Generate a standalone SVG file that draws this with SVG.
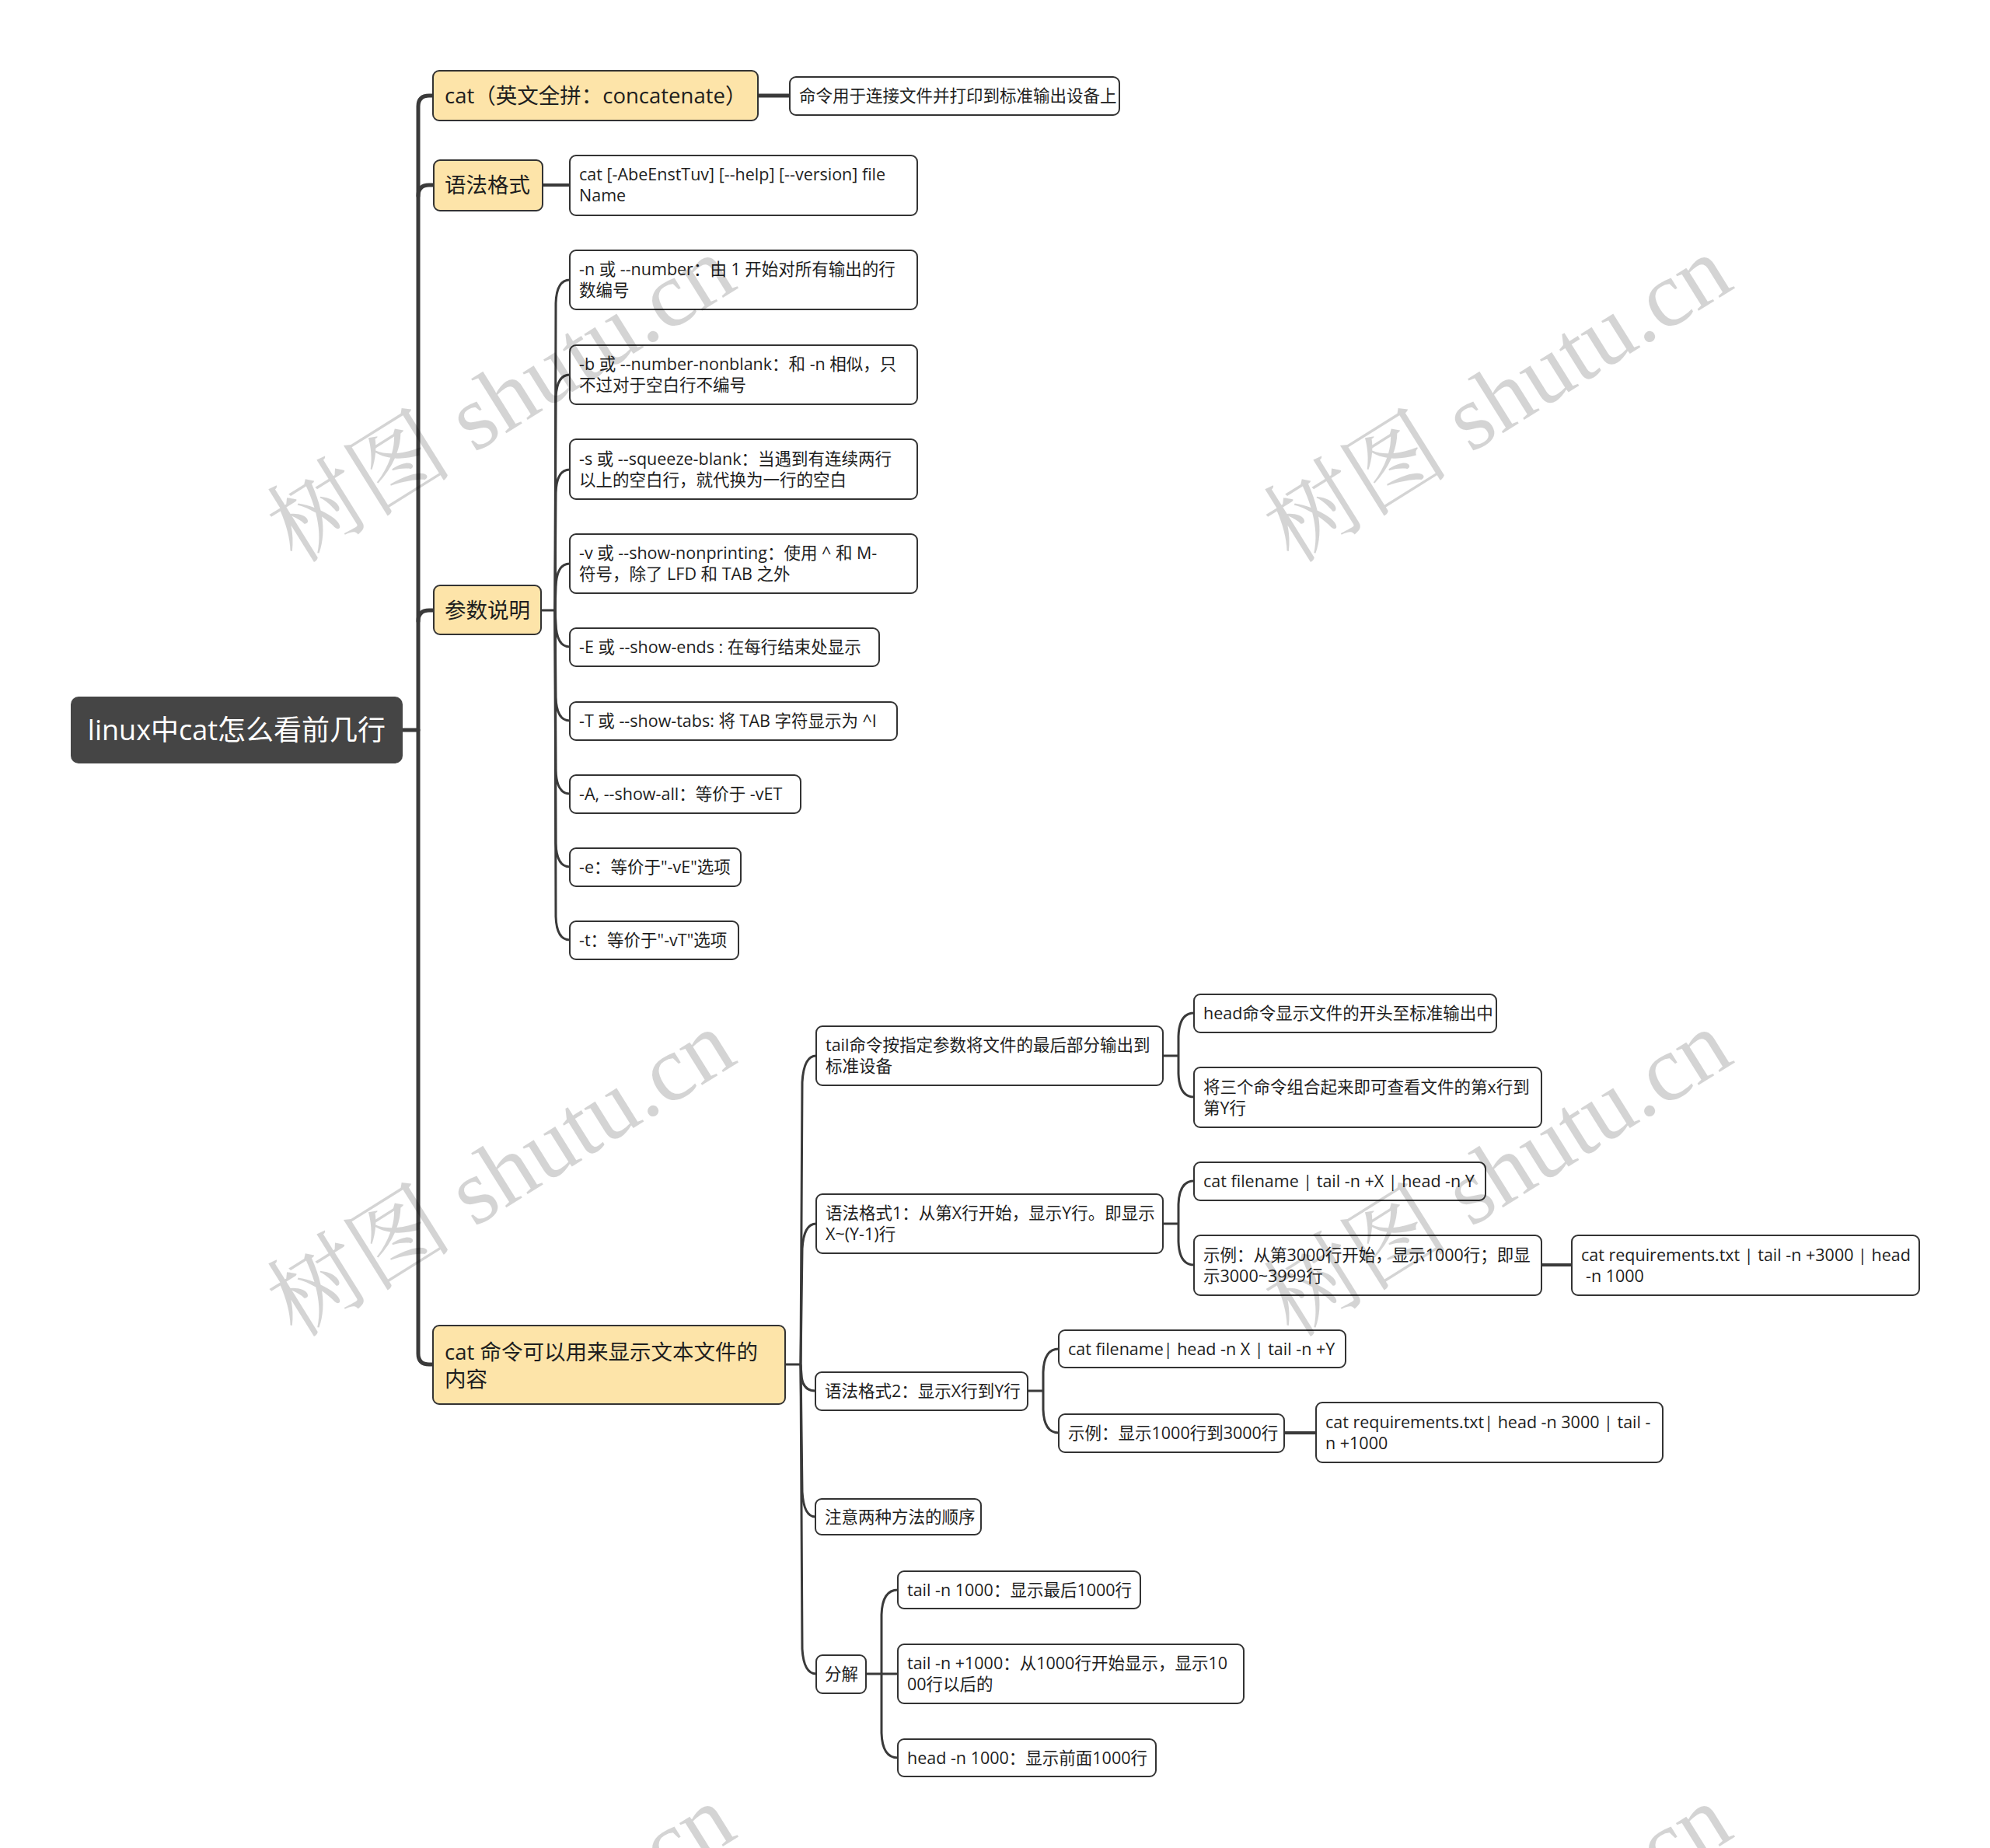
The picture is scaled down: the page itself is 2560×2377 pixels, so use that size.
<svg xmlns="http://www.w3.org/2000/svg" width="2560" height="2377" viewBox="0 0 2560 2377">
<style>
.bg{fill:#ffffff}
.root{fill:#454545}
.n1{fill:#fde4a9;stroke:#333333;stroke-width:2}
.n2{fill:#ffffff;stroke:#333333;stroke-width:2}
.t{font-family:"Open Sans","Noto Sans CJK SC",sans-serif;fill:#1e1e1e}
.tr{font-size:36px;fill:#ffffff}
.t1{font-size:27.5px}
.t2{font-size:21.5px}
.c1{fill:none;stroke:#3a3a3a;stroke-width:5;stroke-linecap:round;stroke-linejoin:round}
.c3{fill:none;stroke:#3a3a3a;stroke-width:4}
.c2{fill:none;stroke:#3a3a3a;stroke-width:3}
.wm{font-family:"Liberation Serif","Noto Serif CJK SC","Noto Sans CJK SC",serif;font-size:120px;fill:#000000;fill-opacity:0.17}
</style>
<rect class="bg" x="0" y="0" width="2560" height="2377"/>

<g id="connectors">
  <path class="c1" d="M518,939 H538"/>
  <path class="c1" d="M557,123 H552 Q538,123 538,137 V1741 Q538,1755 552,1755 H557"/>
  <path class="c1" d="M558,238 H552 Q538,238 538,252"/>
  <path class="c1" d="M558,785 H552 Q538,785 538,799"/>
  <path class="c1" d="M975,123 H1016"/>
  <path class="c3" d="M698,238 H733"/>
  <path class="c3" d="M1983,1627 H2022"/>
  <path class="c3" d="M1652,1843 H1693"/>
  <!-- 参数说明 -->
  <path class="c2" d="M696,785 H714"/>
  <path class="c2" d="M714,785 L715,390 Q716,360 733,360"/>
  <path class="c2" d="M714,785 L715,512 Q716,482 733,482"/>
  <path class="c2" d="M714,785 L715,634 Q716,604 733,604"/>
  <path class="c2" d="M714,785 L715,755 Q716,725 733,725"/>
  <path class="c2" d="M714,785 L715,802 Q716,832 733,832"/>
  <path class="c2" d="M714,785 L715,897 Q716,927 733,927"/>
  <path class="c2" d="M714,785 L715,991 Q716,1021 733,1021"/>
  <path class="c2" d="M714,785 L715,1085 Q716,1115 733,1115"/>
  <path class="c2" d="M714,785 L715,1179 Q716,1209 733,1209"/>
  <!-- cat 命令 -->
  <path class="c2" d="M1010,1755 H1030"/>
  <path class="c2" d="M1030,1755 L1032,1392 Q1034,1358 1050,1358"/>
  <path class="c2" d="M1030,1755 L1032,1606 Q1034,1574 1050,1574"/>
  <path class="c2" d="M1030,1755 L1031,1768 Q1032,1789 1049,1789"/>
  <path class="c2" d="M1030,1755 L1032,1919 Q1034,1951 1049,1951"/>
  <path class="c2" d="M1030,1755 L1032,2121 Q1034,2153 1050,2153"/>
  <!-- tail命令 -->
  <path class="c2" d="M1496,1358 H1516"/>
  <path class="c2" d="M1516,1358 L1516,1333 Q1517,1303 1536,1303"/>
  <path class="c2" d="M1516,1358 L1516,1381 Q1517,1411 1536,1411"/>
  <!-- 语法格式1 -->
  <path class="c2" d="M1496,1574 H1516"/>
  <path class="c2" d="M1516,1574 L1516,1549 Q1517,1519 1536,1519"/>
  <path class="c2" d="M1516,1574 L1516,1597 Q1517,1627 1536,1627"/>
  <!-- 语法格式2 -->
  <path class="c2" d="M1322,1789 H1342"/>
  <path class="c2" d="M1342,1789 L1342,1765 Q1343,1735 1362,1735"/>
  <path class="c2" d="M1342,1789 L1342,1813 Q1343,1843 1362,1843"/>
  <!-- 分解 -->
  <path class="c2" d="M1114,2153 H1155"/>
  <path class="c2" d="M1134,2153 L1134,2077 Q1135,2045 1155,2045"/>
  <path class="c2" d="M1134,2153 L1134,2229 Q1135,2261 1155,2261"/>
</g>

<g id="root">
  <rect class="root" x="91" y="896" width="427" height="86" rx="10"/>
  <text class="t tr" x="304.5" y="952" text-anchor="middle">linux中cat怎么看前几行</text>
</g>

<g id="n-cat">
  <rect class="n1" x="557" y="91" width="418" height="64" rx="8"/>
  <text class="t t1" x="572" y="133">cat（英文全拼：concatenate）</text>
</g>
<g id="n-cat-desc">
  <rect class="n2" x="1016" y="99" width="424" height="49" rx="8"/>
  <text class="t t2" x="1028" y="131">命令用于连接文件并打印到标准输出设备上</text>
</g>

<g id="n-syntax">
  <rect class="n1" x="558" y="206" width="140" height="65" rx="8"/>
  <text class="t t1" x="572" y="248">语法格式</text>
</g>
<g id="n-syntax-desc">
  <rect class="n2" x="733" y="200" width="447" height="77" rx="8"/>
  <text class="t t2" x="745" y="232">cat [-AbeEnstTuv] [--help] [--version] file</text>
  <text class="t t2" x="745" y="259">Name</text>
</g>

<g id="n-params">
  <rect class="n1" x="558" y="753" width="138" height="63" rx="8"/>
  <text class="t t1" x="572" y="795">参数说明</text>
</g>
<g id="p-n">
  <rect class="n2" x="733" y="322" width="447" height="76" rx="8"/>
  <text class="t t2" x="745" y="354">-n 或 --number：由 1 开始对所有输出的行</text>
  <text class="t t2" x="745" y="381">数编号</text>
</g>
<g id="p-b">
  <rect class="n2" x="733" y="444" width="447" height="76" rx="8"/>
  <text class="t t2" x="745" y="476">-b 或 --number-nonblank：和 -n 相似，只</text>
  <text class="t t2" x="745" y="503">不过对于空白行不编号</text>
</g>
<g id="p-s">
  <rect class="n2" x="733" y="565" width="447" height="77" rx="8"/>
  <text class="t t2" x="745" y="598">-s 或 --squeeze-blank：当遇到有连续两行</text>
  <text class="t t2" x="745" y="625">以上的空白行，就代换为一行的空白</text>
</g>
<g id="p-v">
  <rect class="n2" x="733" y="687" width="447" height="76" rx="8"/>
  <text class="t t2" x="745" y="719">-v 或 --show-nonprinting：使用 ^ 和 M-</text>
  <text class="t t2" x="745" y="746">符号，除了 LFD 和 TAB 之外</text>
</g>
<g id="p-E">
  <rect class="n2" x="733" y="808" width="398" height="49" rx="8"/>
  <text class="t t2" x="745" y="840">-E 或 --show-ends : 在每行结束处显示</text>
</g>
<g id="p-T">
  <rect class="n2" x="733" y="903" width="421" height="49" rx="8"/>
  <text class="t t2" x="745" y="935">-T 或 --show-tabs: 将 TAB 字符显示为 ^I</text>
</g>
<g id="p-A">
  <rect class="n2" x="733" y="997" width="297" height="49" rx="8"/>
  <text class="t t2" x="745" y="1029">-A, --show-all：等价于 -vET</text>
</g>
<g id="p-e">
  <rect class="n2" x="733" y="1091" width="220" height="49" rx="8"/>
  <text class="t t2" x="745" y="1123">-e：等价于"-vE"选项</text>
</g>
<g id="p-t">
  <rect class="n2" x="733" y="1185" width="217" height="49" rx="8"/>
  <text class="t t2" x="745" y="1217">-t：等价于"-vT"选项</text>
</g>

<g id="n-catcmd">
  <rect class="n1" x="557" y="1705" width="453" height="101" rx="8"/>
  <text class="t t1" x="572" y="1749">cat 命令可以用来显示文本文件的</text>
  <text class="t t1" x="572" y="1784">内容</text>
</g>
<g id="c-tail">
  <rect class="n2" x="1050" y="1320" width="446" height="76" rx="8"/>
  <text class="t t2" x="1062" y="1352">tail命令按指定参数将文件的最后部分输出到</text>
  <text class="t t2" x="1062" y="1379">标准设备</text>
</g>
<g id="c-head">
  <rect class="n2" x="1536" y="1279" width="389" height="49" rx="8"/>
  <text class="t t2" x="1548" y="1311">head命令显示文件的开头至标准输出中</text>
</g>
<g id="c-combine">
  <rect class="n2" x="1536" y="1373" width="447" height="77" rx="8"/>
  <text class="t t2" x="1548" y="1406">将三个命令组合起来即可查看文件的第x行到</text>
  <text class="t t2" x="1548" y="1433">第Y行</text>
</g>
<g id="c-syn1">
  <rect class="n2" x="1050" y="1536" width="446" height="76" rx="8"/>
  <text class="t t2" x="1062" y="1568">语法格式1：从第X行开始，显示Y行。即显示</text>
  <text class="t t2" x="1062" y="1595">X~(Y-1)行</text>
</g>
<g id="c-syn1-a">
  <rect class="n2" x="1536" y="1495" width="375" height="49" rx="8"/>
  <text class="t t2" x="1548" y="1527">cat filename | tail -n +X | head -n Y</text>
</g>
<g id="c-syn1-b">
  <rect class="n2" x="1536" y="1589" width="447" height="77" rx="8"/>
  <text class="t t2" x="1548" y="1622">示例：从第3000行开始，显示1000行；即显</text>
  <text class="t t2" x="1548" y="1649">示3000~3999行</text>
</g>
<g id="c-syn1-c">
  <rect class="n2" x="2022" y="1589" width="447" height="77" rx="8"/>
  <text class="t t2" x="2034" y="1622">cat requirements.txt | tail -n +3000 | head</text>
  <text class="t t2" x="2040" y="1649">-n 1000</text>
</g>
<g id="c-syn2">
  <rect class="n2" x="1049" y="1765" width="273" height="49" rx="8"/>
  <text class="t t2" x="1061" y="1797">语法格式2：显示X行到Y行</text>
</g>
<g id="c-syn2-a">
  <rect class="n2" x="1362" y="1711" width="369" height="48" rx="8"/>
  <text class="t t2" x="1374" y="1743">cat filename| head -n X | tail -n +Y</text>
</g>
<g id="c-syn2-b">
  <rect class="n2" x="1362" y="1819" width="290" height="49" rx="8"/>
  <text class="t t2" x="1374" y="1851">示例：显示1000行到3000行</text>
</g>
<g id="c-syn2-c">
  <rect class="n2" x="1693" y="1804" width="446" height="77" rx="8"/>
  <text class="t t2" x="1705" y="1837">cat requirements.txt| head -n 3000 | tail -</text>
  <text class="t t2" x="1705" y="1864">n +1000</text>
</g>
<g id="c-note">
  <rect class="n2" x="1049" y="1928" width="213" height="46" rx="8"/>
  <text class="t t2" x="1061" y="1959">注意两种方法的顺序</text>
</g>
<g id="c-split">
  <rect class="n2" x="1050" y="2129" width="64" height="49" rx="8"/>
  <text class="t t2" x="1061" y="2161">分解</text>
</g>
<g id="s-tail">
  <rect class="n2" x="1155" y="2021" width="312" height="48" rx="8"/>
  <text class="t t2" x="1167" y="2053">tail -n 1000：显示最后1000行</text>
</g>
<g id="s-tailplus">
  <rect class="n2" x="1155" y="2115" width="445" height="76" rx="8"/>
  <text class="t t2" x="1167" y="2147">tail -n +1000：从1000行开始显示，显示10</text>
  <text class="t t2" x="1167" y="2174">00行以后的</text>
</g>
<g id="s-head">
  <rect class="n2" x="1155" y="2237" width="332" height="48" rx="8"/>
  <text class="t t2" x="1167" y="2269">head -n 1000：显示前面1000行</text>
</g>

<g id="watermarks">
  <text class="wm" text-anchor="middle" transform="translate(645,514) rotate(-32)" x="0" y="40">树图 shutu.cn</text>
  <text class="wm" text-anchor="middle" transform="translate(1927,514) rotate(-32)" x="0" y="40">树图 shutu.cn</text>
  <text class="wm" text-anchor="middle" transform="translate(645,1510) rotate(-32)" x="0" y="40">树图 shutu.cn</text>
  <text class="wm" text-anchor="middle" transform="translate(1927,1510) rotate(-32)" x="0" y="40">树图 shutu.cn</text>
  <text class="wm" text-anchor="middle" transform="translate(645,2506) rotate(-32)" x="0" y="40">树图 shutu.cn</text>
  <text class="wm" text-anchor="middle" transform="translate(1927,2506) rotate(-32)" x="0" y="40">树图 shutu.cn</text>
</g>
</svg>
